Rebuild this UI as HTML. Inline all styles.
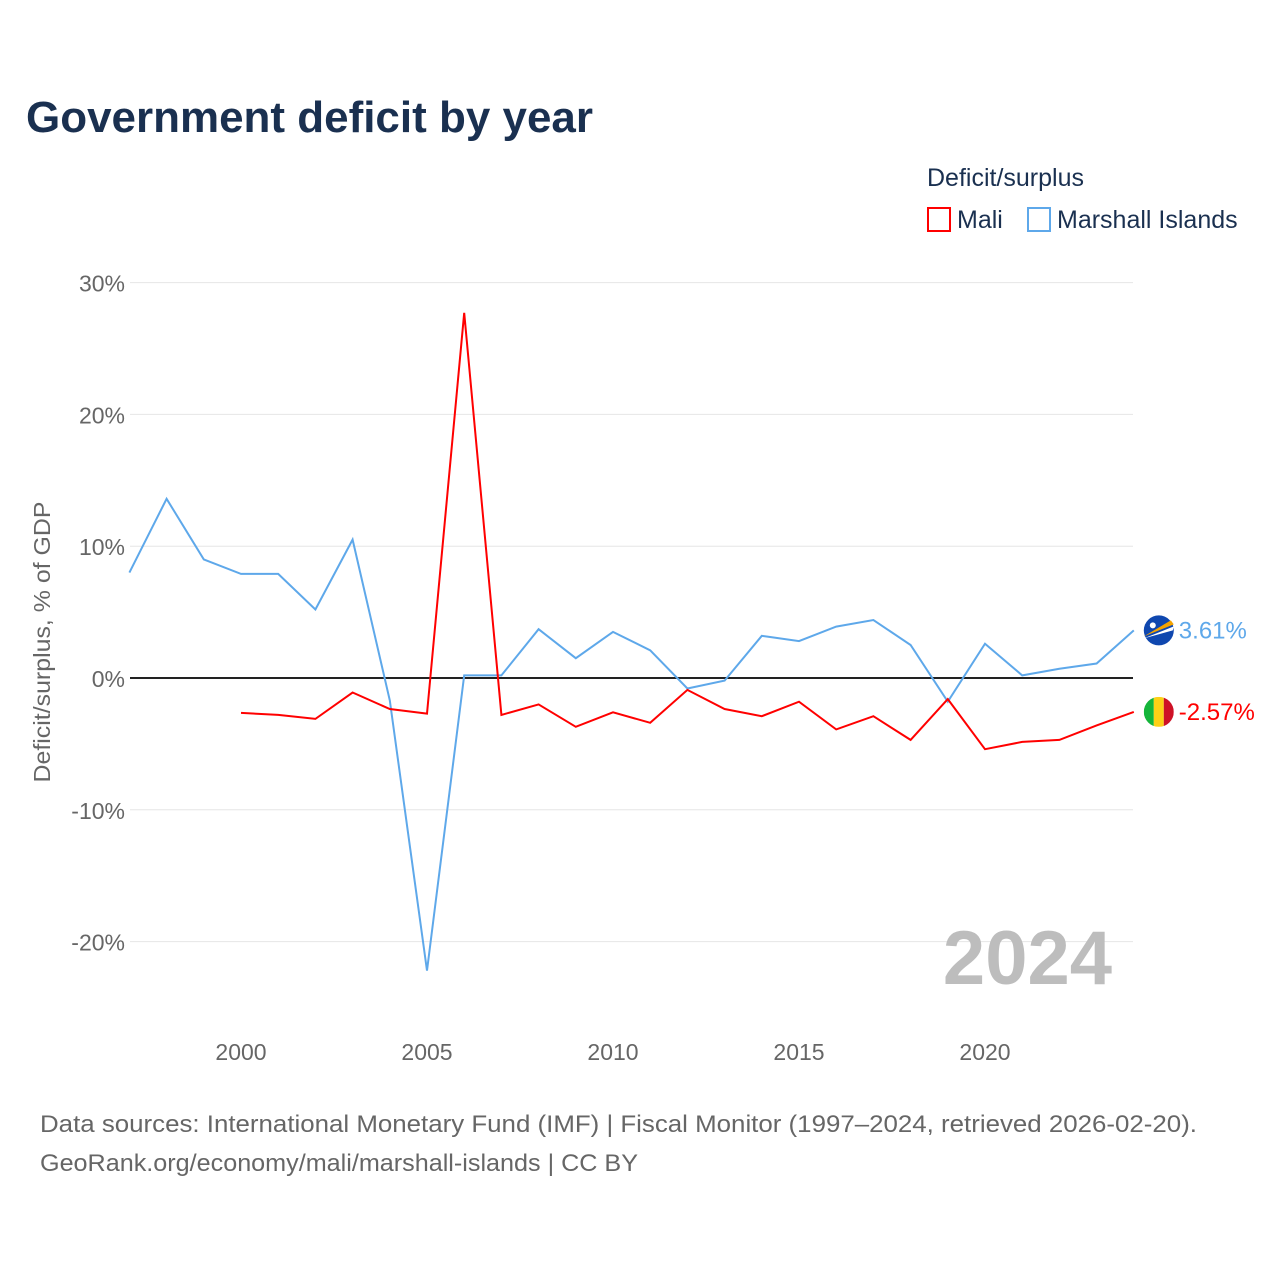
<!DOCTYPE html>
<html><head><meta charset="utf-8">
<style>
html,body{margin:0;padding:0;background:#fff;}
body{width:1280px;height:1280px;position:relative;font-family:"Liberation Sans",sans-serif;overflow:hidden;}
</style></head>
<body>
<svg id="chart" width="1280" height="1280" xmlns="http://www.w3.org/2000/svg" style="position:absolute;left:0;top:0">
  <text x="26" y="132" font-size="44" font-weight="bold" fill="#1a3050" textLength="567" lengthAdjust="spacingAndGlyphs">Government deficit by year</text>
  <text x="927" y="186" font-size="25" fill="#1a3050">Deficit/surplus</text>
  <g>
    <rect x="928" y="208" width="22" height="23" fill="none" stroke="#ff0000" stroke-width="2"/>
    <text x="957" y="228" font-size="25" fill="#1a3050">Mali</text>
  </g>
  <g>
    <rect x="1028" y="208" width="22" height="23" fill="none" stroke="#5ea8ea" stroke-width="2"/>
    <text x="1057" y="228" font-size="25" fill="#1a3050">Marshall Islands</text>
  </g>
  <text transform="translate(50,642) rotate(-90)" text-anchor="middle" font-size="23" fill="#666" textLength="281" lengthAdjust="spacingAndGlyphs">Deficit/surplus, % of GDP</text>
  <g id="grid"></g>
  <g id="series"></g>
  <text x="1112" y="984" text-anchor="end" font-size="76" font-weight="bold" fill="#bdbdbd">2024</text>
  <text x="40" y="1132" font-size="24" fill="#666" textLength="1157" lengthAdjust="spacingAndGlyphs">Data sources: International Monetary Fund (IMF) | Fiscal Monitor (1997–2024, retrieved 2026-02-20).</text>
  <text x="40" y="1171" font-size="24" fill="#666" textLength="598" lengthAdjust="spacingAndGlyphs">GeoRank.org/economy/mali/marshall-islands | CC BY</text>
</svg>
<script>
const years = [1997,1998,1999,2000,2001,2002,2003,2004,2005,2006,2007,2008,2009,2010,2011,2012,2013,2014,2015,2016,2017,2018,2019,2020,2021,2022,2023,2024];
const marshallValues = [8.0,13.6,9.0,7.9,7.9,5.2,10.5,-1.7,-22.2,0.2,0.2,3.7,1.5,3.5,2.1,-0.8,-0.2,3.2,2.8,3.9,4.4,2.5,-1.8,2.6,0.2,0.7,1.1,3.61];
const maliValues = [null,null,null,-2.65,-2.8,-3.1,-1.1,-2.35,-2.7,27.7,-2.8,-2.0,-3.7,-2.6,-3.4,-0.9,-2.35,-2.9,-1.8,-3.9,-2.9,-4.7,-1.6,-5.4,-4.85,-4.7,-3.6,-2.57];
const yTicks = [30,20,10,0,-10,-20];
const xTicks = [2000,2005,2010,2015,2020];

const NS = "http://www.w3.org/2000/svg";
const x = yr => 129.4 + (yr - 1997) * 37.2;
const y = v => 678 - v * 13.18;
function mk(tag, attrs, parent){const e=document.createElementNS(NS,tag);for(const k in attrs)e.setAttribute(k,attrs[k]);parent.appendChild(e);return e;}
const grid = document.getElementById('grid');
const series = document.getElementById('series');

yTicks.forEach(t=>{
  const l = mk('line',{x1:130,x2:1133,y1:y(t),y2:y(t),stroke:t===0?'#222':'#e6e6e6','stroke-width':t===0?2:1},grid);
  
  
  const tx = mk('text',{x:125,y:y(t)+9,'text-anchor':'end','font-size':23,fill:'#666'},grid);
  tx.textContent = t + '%';
  
  
});
xTicks.forEach(t=>{
  const tx = mk('text',{x:x(t),y:1060,'text-anchor':'middle','font-size':23,fill:'#666'},grid);
  tx.textContent = t;
  
  
});

function drawLine(vals, color, name){
  const pts = [];
  vals.forEach((v,i)=>{ if(v!==null) pts.push(x(years[i]).toFixed(1)+','+y(v).toFixed(1)); });
  const p = mk('polyline',{points:pts.join(' '),fill:'none',stroke:color,'stroke-width':2,'stroke-linejoin':'miter'},series);
  
  
}
drawLine(marshallValues,'#5ea8ea','marshall-islands-line');
drawLine(maliValues,'#ff0000','mali-line');

const lastI = years.length-1;
const mx = x(years[lastI]) + 25;
const my = y(marshallValues[lastI]);
const mg = mk('g',{},series);


mk('circle',{cx:mx,cy:my,r:15,fill:'#0f47af'},mg);
mk('polygon',{points:`${mx-15},${my+6} ${mx+12},${my-10} ${mx+15},${my-6}`,fill:'#f4a300'},mg);
mk('polygon',{points:`${mx-15},${my+8} ${mx+15},${my-4} ${mx+14},${my}`,fill:'#fff'},mg);
mk('circle',{cx:mx-6,cy:my-5,r:3,fill:'#fff'},mg);
const ml = mk('text',{x:mx+20,y:my+8,'font-size':24,fill:'#5ea8ea'},series);
ml.textContent = marshallValues[lastI].toFixed(2)+'%';


const ay = y(maliValues[lastI]);
const ag = mk('g',{},series);


const cp = mk('clipPath',{id:'mclip'},ag);
mk('circle',{cx:mx,cy:ay,r:15},cp);
mk('rect',{x:mx-15,y:ay-15,width:10,height:30,fill:'#14b53a','clip-path':'url(#mclip)'},ag);
mk('rect',{x:mx-5,y:ay-15,width:10,height:30,fill:'#fcd116','clip-path':'url(#mclip)'},ag);
mk('rect',{x:mx+5,y:ay-15,width:10,height:30,fill:'#ce1126','clip-path':'url(#mclip)'},ag);
const al = mk('text',{x:mx+20,y:ay+8,'font-size':24,fill:'#ff0000'},series);
al.textContent = maliValues[lastI].toFixed(2)+'%';


</script>
</body></html>
